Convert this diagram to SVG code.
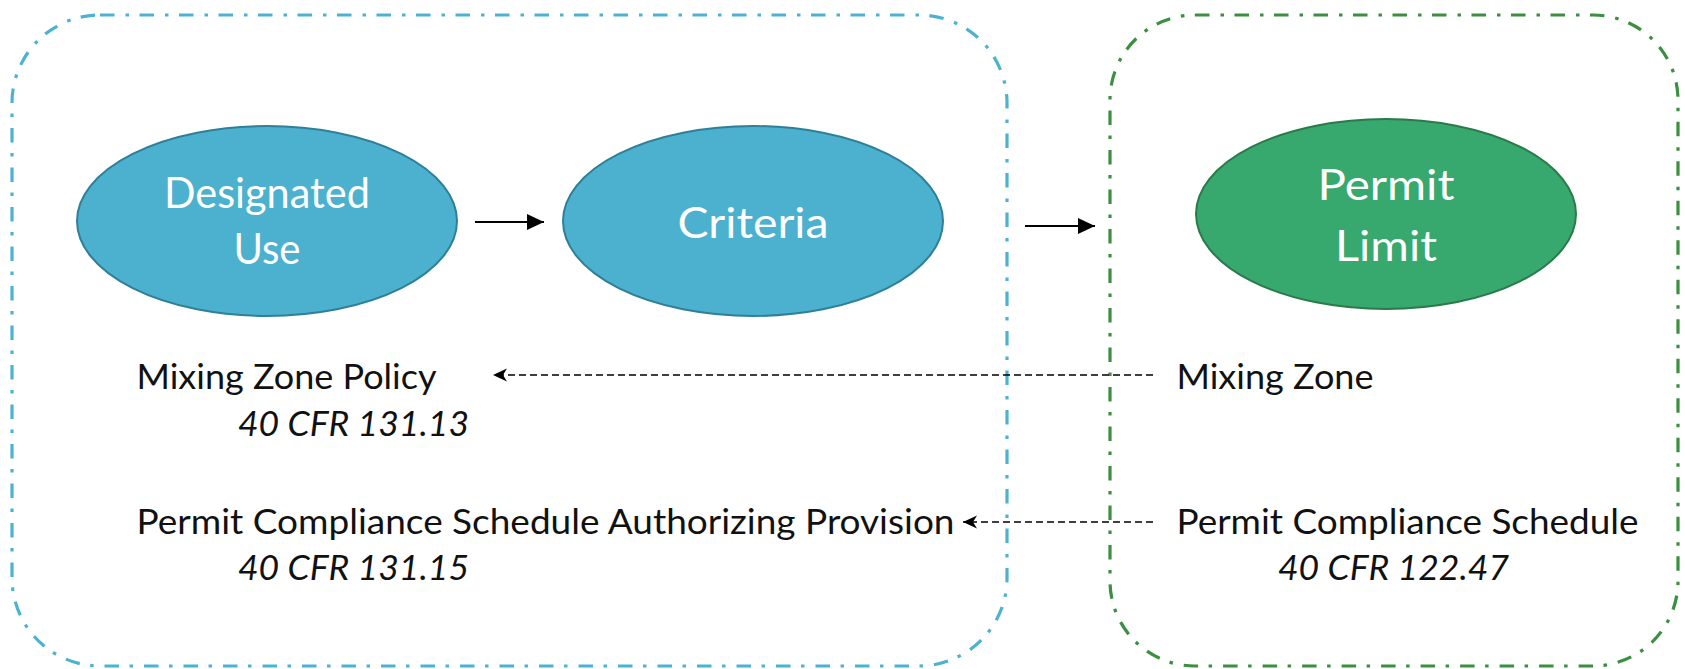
<svg xmlns="http://www.w3.org/2000/svg" width="1685" height="669" viewBox="0 0 1685 669">
<style>
.box{fill:none;stroke-width:3.2;stroke-dasharray:14.5 11 3.5 10.5}
.blue{stroke:#4DB2D1}
.green{stroke:#3C8E40}
.ell-b{fill:#4BB1CE;stroke:#2F7F98;stroke-width:2}
.ell-g{fill:#37A86E;stroke:#2A7A4A;stroke-width:2}
.nt{font-family:Lato,"Open Sans",sans-serif;font-size:42px;fill:#FFFFFF;text-anchor:middle}
.lt{font-family:Lato,"Open Sans",sans-serif;font-size:35px;fill:#111111}
.it{font-style:italic}
.solid{stroke:#000;stroke-width:2;fill:none}
.dash{stroke:#000;stroke-width:1.5;fill:none;stroke-dasharray:7 4}
</style>
<defs>
<marker id="ah" markerUnits="userSpaceOnUse" markerWidth="20" markerHeight="20" refX="17" refY="9" orient="auto">
<path d="M0,1 L17,9 L0,17 Z" fill="#000"/>
</marker>
<marker id="ahs" markerUnits="userSpaceOnUse" markerWidth="16" markerHeight="16" refX="14" refY="7" orient="auto">
<path d="M0,0.5 L14,7 L0,13.5 L4,7 Z" fill="#000"/>
</marker>
</defs>
<g id="group-water-quality-standards">
<rect class="box blue" x="12" y="15" width="995" height="651" rx="88" ry="88"/>
</g>
<g id="group-permit">
<rect class="box green" x="1110" y="15" width="568" height="651" rx="85" ry="85"/>
</g>
<g id="node-designated-use">
<ellipse class="ell-b" cx="267" cy="221" rx="190" ry="95"/>
<text class="nt" x="267" y="208" textLength="206" lengthAdjust="spacingAndGlyphs">Designated</text>
<text class="nt" x="267" y="264" textLength="67" lengthAdjust="spacingAndGlyphs">Use</text>
</g>
<g id="node-criteria">
<ellipse class="ell-b" cx="753" cy="221" rx="190" ry="95"/>
<text class="nt" x="753" y="238" textLength="151" lengthAdjust="spacingAndGlyphs">Criteria</text>
</g>
<g id="node-permit-limit">
<ellipse class="ell-g" cx="1386" cy="214" rx="190" ry="95"/>
<text class="nt" x="1386" y="200" textLength="137" lengthAdjust="spacingAndGlyphs">Permit</text>
<text class="nt" x="1386" y="261" textLength="102" lengthAdjust="spacingAndGlyphs">Limit</text>
</g>
<g id="label-mixing-zone-policy">
<text class="lt" x="136.5" y="389" textLength="300" lengthAdjust="spacingAndGlyphs">Mixing Zone Policy</text>
<text class="lt it" x="238" y="436" textLength="231" lengthAdjust="spacingAndGlyphs">40 CFR 131.13</text>
</g>
<g id="label-compliance-provision">
<text class="lt" x="136.5" y="534" textLength="818" lengthAdjust="spacingAndGlyphs">Permit Compliance Schedule Authorizing Provision</text>
<text class="lt it" x="238" y="580" textLength="231" lengthAdjust="spacingAndGlyphs">40 CFR 131.15</text>
</g>
<g id="label-mixing-zone">
<text class="lt" x="1176.5" y="389" textLength="197" lengthAdjust="spacingAndGlyphs">Mixing Zone</text>
</g>
<g id="label-compliance-schedule">
<text class="lt" x="1176.5" y="534" textLength="462" lengthAdjust="spacingAndGlyphs">Permit Compliance Schedule</text>
<text class="lt it" x="1278" y="580" textLength="231" lengthAdjust="spacingAndGlyphs">40 CFR 122.47</text>
</g>
<g id="connectors">
<line class="solid" x1="475" y1="222" x2="544" y2="222" marker-end="url(#ah)"/>
<line class="solid" x1="1025" y1="226" x2="1095" y2="226" marker-end="url(#ah)"/>
<line class="dash" x1="1153" y1="375" x2="493" y2="375" marker-end="url(#ahs)"/>
<line class="dash" x1="1153" y1="522" x2="963" y2="522" marker-end="url(#ahs)"/>
</g>
</svg>
